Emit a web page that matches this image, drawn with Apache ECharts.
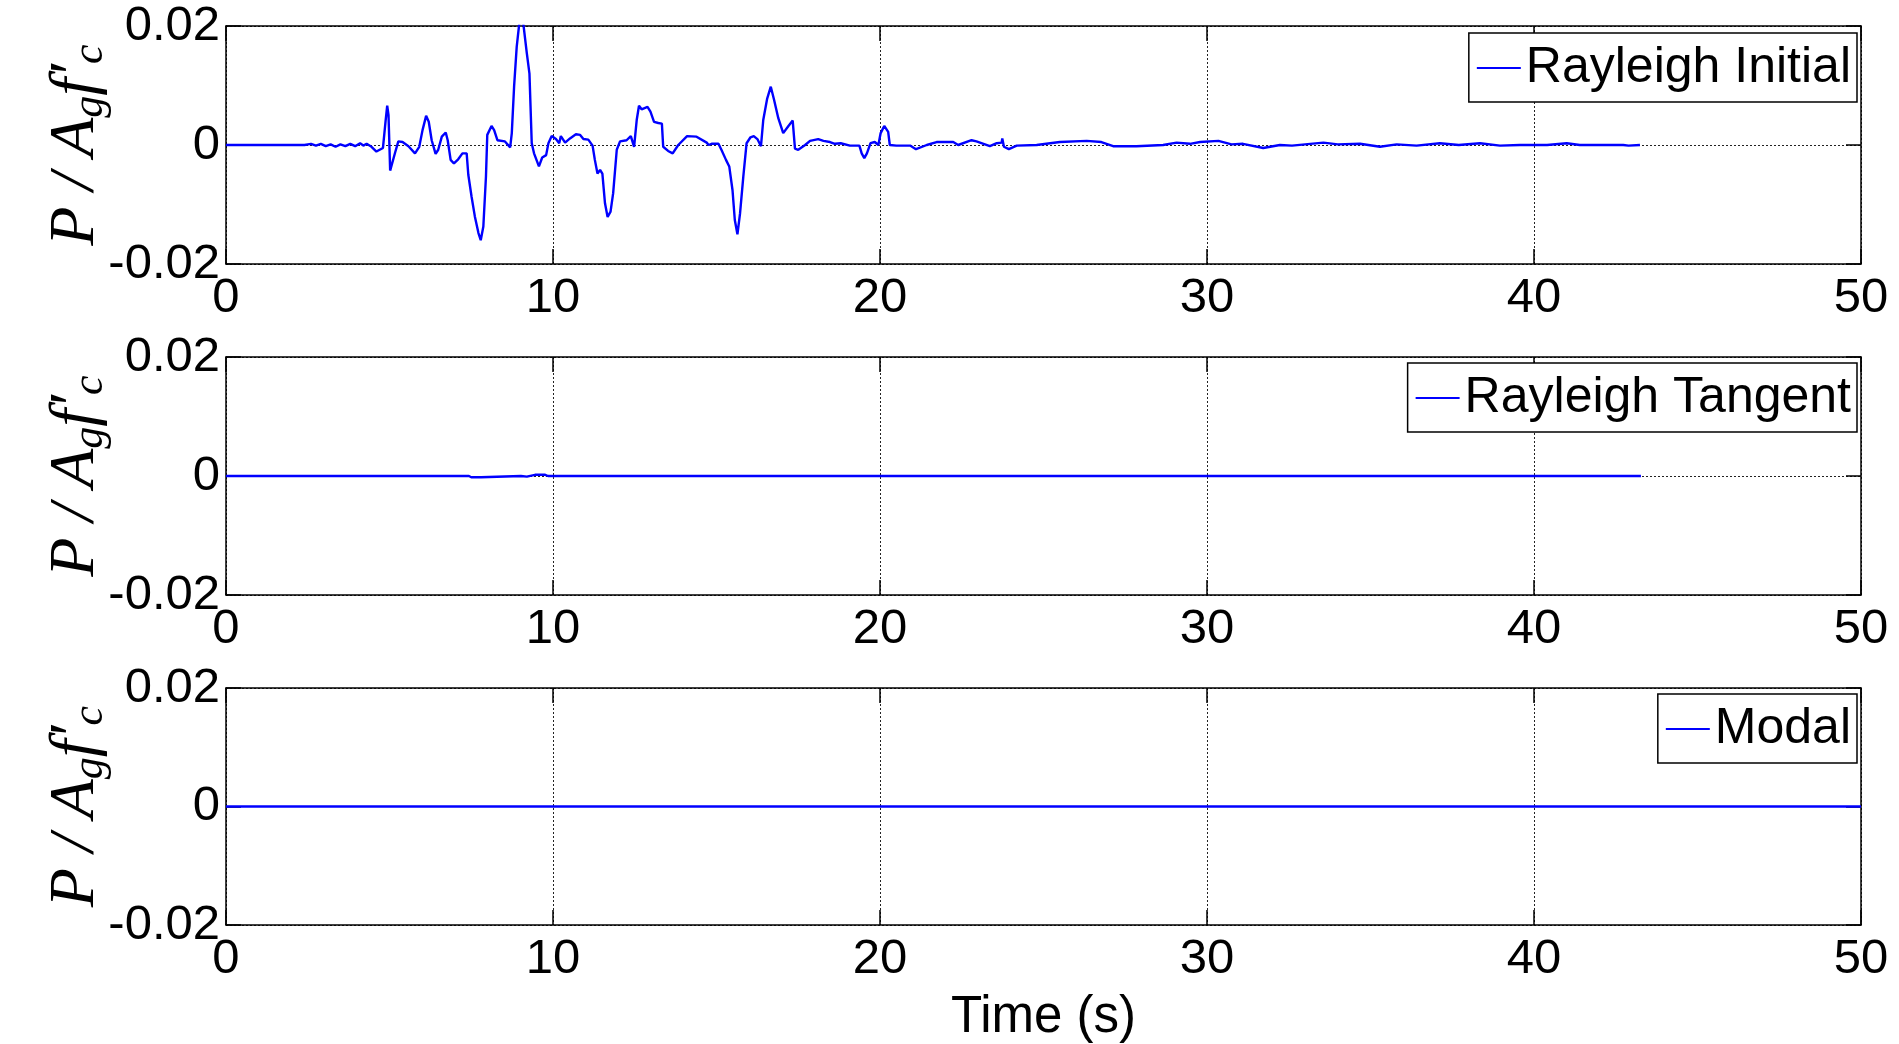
<!DOCTYPE html>
<html>
<head>
<meta charset="utf-8">
<script src="https://cdn.jsdelivr.net/npm/echarts@6/dist/echarts.min.js"></script>
<style>
html, body { margin: 0; padding: 0; background: #fff; }
#main { width: 1899px; height: 1044px; }
</style>
</head>
<body>
<div id="main"></div>
<script>
// 坐标轴刻度
var timeTicks = [0, 10, 20, 30, 40, 50];
var forceTicks = [-0.02, 0, 0.02];
var seriesNames = ['Rayleigh Initial', 'Rayleigh Tangent', 'Modal'];

// Rayleigh Initial
var initT = [0, 2.4, 2.6, 2.75, 2.9, 3.05, 3.2, 3.35, 3.5, 3.65, 3.8, 3.95, 4.1, 4.2, 4.3, 4.45,
    4.6, 4.8, 4.88, 4.93, 4.97, 5.02, 5.08, 5.17, 5.27, 5.4, 5.58, 5.78, 5.91, 6.01, 6.12, 6.2,
    6.29, 6.41, 6.49, 6.6, 6.72, 6.78, 6.87, 6.97, 7.1, 7.23, 7.36, 7.41, 7.51, 7.61, 7.72, 7.79,
    7.87, 7.95, 7.99, 8.12, 8.2, 8.3, 8.53, 8.69, 8.74, 8.81, 8.89, 8.97, 9.09, 9.2, 9.28, 9.35,
    9.42, 9.48, 9.57, 9.67, 9.79, 9.86, 9.96, 10.09, 10.19, 10.24, 10.37, 10.52, 10.7, 10.83, 10.93,
    11.08, 11.21, 11.28, 11.36, 11.44, 11.51, 11.59, 11.67, 11.76, 11.84, 11.95, 12.05, 12.25, 12.38,
    12.48, 12.56, 12.63, 12.71, 12.8, 12.89, 12.98, 13.09, 13.22, 13.33, 13.37, 13.52, 13.66, 13.83,
    14.1, 14.39, 14.7, 14.76, 14.85, 15.06, 15.15, 15.29, 15.39, 15.49, 15.56, 15.64, 15.72, 15.82,
    15.92, 16.04, 16.14, 16.25, 16.36, 16.43, 16.55, 16.66, 16.76, 16.89, 17.04, 17.2, 17.33, 17.4,
    17.5, 17.71, 17.86, 18.11, 18.27, 18.47, 18.62, 18.8, 19.08, 19.37, 19.44, 19.52, 19.6, 19.71,
    19.84, 19.95, 20.02, 20.13, 20.25, 20.3, 20.5, 20.92, 21.1, 21.43, 21.73, 22.24, 22.39, 22.8,
    22.95, 23.36, 23.57, 23.72, 23.74, 23.79, 23.94, 24.18, 24.79, 25.5, 26.32, 26.77, 27.13, 27.84,
    28.66, 29.07, 29.48, 29.79, 30.35, 30.75, 31.1, 31.72, 32.23, 32.6, 33.56, 34.0, 34.68, 35.29,
    35.8, 36.41, 37.12, 37.7, 38.35, 38.96, 39.57, 40.4, 41.0, 41.4, 42.73, 42.89, 43.24];
var initP = [0, 0, 0.0002, -0.0001, 0.0002, -0.0002, 0.0001, -0.0003, 0.0001, -0.0002, 0.0002, -0.0002, 0.0003, -0.0001, 0.0002, -0.0003,
    -0.0011, -0.0005, 0.0040, 0.0066, 0.0050, -0.0043, -0.0041, -0.0013, 0.0006, 0.0005, -0.0002, -0.0014, -0.0003, 0.0025, 0.0049, 0.0039,
    0.0008, -0.0015, -0.0008, 0.0014, 0.0021, 0.0008, -0.0025, -0.0031, -0.0024, -0.0014, -0.0014, -0.0050, -0.0087, -0.0120, -0.0148, -0.0160,
    -0.0137, -0.0053, 0.0017, 0.0032, 0.0025, 0.0008, 0.0006, -0.0004, 0.0020, 0.0098, 0.0165, 0.0205, 0.0205, 0.0154, 0.0120, 0.0003,
    -0.0014, -0.0017, -0.0036, -0.0021, -0.0017, 0.0003, 0.0015, 0.0010, 0.0003, 0.0015, 0.0004, 0.0011, 0.0018, 0.0017, 0.0010,
    0.0009, -0.0001, -0.0025, -0.0048, -0.0042, -0.0048, -0.0098, -0.0121, -0.0112, -0.0081, -0.0008, 0.0006, 0.0008, 0.0015,
    -0.0003, 0.0042, 0.0066, 0.0060, 0.0062, 0.0064, 0.0056, 0.0039, 0.0037, 0.0036, -0.0003, -0.0010, -0.0014, 0.0000,
    0.0015, 0.0014, 0.0004, 0.0000, 0.0002, 0.0002, -0.0008, -0.0025, -0.0036, -0.0076, -0.0126, -0.0150, -0.0115, -0.0053,
    0.0003, 0.0013, 0.0015, 0.0010, -0.0002, 0.0042, 0.0078, 0.0098, 0.0076, 0.0045, 0.0020, 0.0032, 0.0041, -0.0006,
    -0.0008, 0.0000, 0.0007, 0.0010, 0.0007, 0.0005, 0.0002, 0.0003, -0.0001, -0.0001, -0.0014, -0.0022, -0.0014, 0.0003,
    0.0005, 0.0000, 0.0020, 0.0032, 0.0022, 0.0000, -0.0001, -0.0001, -0.0007, 0.0000, 0.0005, 0.0005, 0.0000, 0.0008,
    0.0006, -0.0002, 0.0003, 0.0004, 0.0011, -0.0003, -0.0007, -0.0001, 0.0000, 0.0005, 0.0007, 0.0005, -0.0002, -0.0002,
    0.0000, 0.0004, 0.0002, 0.0005, 0.0007, 0.0001, 0.0002, -0.0005, 0.0000, -0.0001, 0.0004, 0.0001, 0.0002, -0.0003,
    0.0001, -0.0001, 0.0003, 0.0000, 0.0003, -0.0001, 0.0000, 0.0000, 0.0003, 0.0000, 0.0000, -0.0001, 0.0000];

// Rayleigh Tangent
var tangT = [0, 4.95, 5.0, 5.05, 7.43, 7.5, 7.8, 7.86, 9.02, 9.08, 9.2, 9.45, 9.76, 9.85, 17.4, 17.45, 17.5, 43.27];
var tangP = [0, 0, 0.0001, 0, 0, -0.0002, -0.0002, 0, 0, -0.0002, -0.0001, 0.0002, 0.0002, 0, 0, 0.0001, 0, 0];

// Modal
var modalT = [0, 50];
var modalP = [0, 0];

function pairs(t, p) {
    var out = [];
    for (var i = 0; i < t.length; i++) {
        out.push([t[i], p[i]]);
    }
    return out;
}

var fontSans = 'Liberation Sans';
var fontSerif = 'Liberation Serif';
var gridTops = [26, 357, 688];
var legendTops = [33, 363, 694];
var plotH = 238;

var tickStyle = { inside: true, length: 15, lineStyle: { color: '#000', width: 1.5 } };
var lineStyleAxis = { show: true, onZero: false, lineStyle: { color: '#000', width: 1.5 } };
var gridDots = { show: true, lineStyle: { color: '#222', width: 1, type: [2, 2] } };

var grids = [], xAxes = [], yAxes = [], series = [], legends = [];
var allData = [pairs(initT, initP), pairs(tangT, tangP), pairs(modalT, modalP)];

for (var i = 0; i < 3; i++) {
    grids.push({ left: 226, right: 38, top: gridTops[i], height: plotH, containLabel: false });

    var bottom = {
        type: 'value', gridIndex: i, position: 'bottom',
        min: timeTicks[0], max: timeTicks[timeTicks.length - 1], interval: 10,
        axisLine: lineStyleAxis, axisTick: tickStyle, splitLine: gridDots,
        axisLabel: { color: '#000', fontFamily: fontSans, fontSize: 49, margin: 10 }
    };
    if (i == 2) {
        bottom.name = 'Time (s)';
        bottom.nameLocation = 'middle';
        bottom.nameGap = 67;
        bottom.nameTextStyle = { color: '#000', fontFamily: fontSans, fontSize: 51 };
    }
    xAxes.push(bottom);
    xAxes.push({
        type: 'value', gridIndex: i, position: 'top',
        min: 0, max: 50, interval: 10,
        axisLine: lineStyleAxis, axisTick: tickStyle,
        axisLabel: { show: false }, splitLine: { show: false }
    });

    yAxes.push({
        type: 'value', gridIndex: i, position: 'left',
        min: forceTicks[0], max: forceTicks[2], interval: 0.02,
        axisLine: lineStyleAxis, axisTick: tickStyle, splitLine: gridDots,
        axisLabel: { color: '#000', fontFamily: fontSans, fontSize: 49, margin: 6 },
        name: '{m|P / A}{s|g}{m|f\u2032}{s|c}',
        nameLocation: 'middle',
        nameRotate: 90,
        nameGap: 114,
        nameMoveOverlap: false,
        nameTextStyle: {
            color: '#000',
            rich: {
                m: { fontFamily: fontSerif, fontStyle: 'italic', fontSize: 64, lineHeight: 64, verticalAlign: 'top', color: '#000' },
                s: { fontFamily: fontSerif, fontStyle: 'italic', fontSize: 44, lineHeight: 68, verticalAlign: 'bottom', color: '#000' }
            }
        }
    });
    yAxes.push({
        type: 'value', gridIndex: i, position: 'right',
        min: -0.02, max: 0.02, interval: 0.02,
        axisLine: lineStyleAxis, axisTick: tickStyle,
        axisLabel: { show: false }, splitLine: { show: false }
    });

    series.push({
        name: seriesNames[i],
        type: 'line',
        xAxisIndex: i * 2,
        yAxisIndex: i * 2,
        showSymbol: false,
        symbol: 'none',
        clip: true,
        lineStyle: { color: '#0000ff', width: 2.4 },
        itemStyle: { color: '#0000ff' },
        data: allData[i]
    });

    legends.push({
        data: [seriesNames[i]],
        right: 42,
        top: legendTops[i],
        icon: 'rect',
        itemWidth: 44,
        itemHeight: 2,
        selectedMode: false,
        backgroundColor: '#fff',
        borderColor: '#000',
        borderWidth: 1.5,
        borderRadius: 0,
        padding: [6, 6, 5, 8],
        textStyle: { color: '#000', fontFamily: fontSans, fontSize: 50, lineHeight: 58 }
    });
}

var myChart = echarts.init(document.getElementById('main'));
myChart.setOption({
    animation: false,
    backgroundColor: '#fff',
    grid: grids,
    xAxis: xAxes,
    yAxis: yAxes,
    legend: legends,
    series: series
});
</script>
</body>
</html>
